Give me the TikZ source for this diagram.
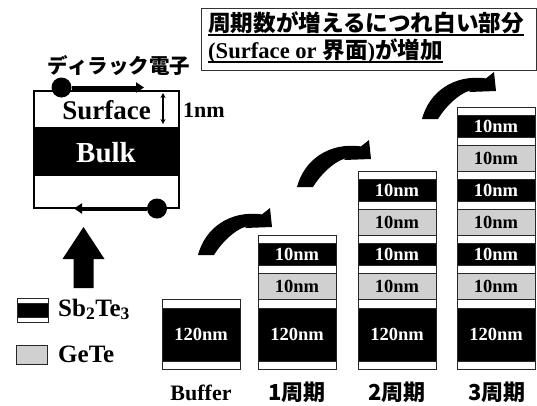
\documentclass[tikz,border=0pt]{standalone}
\usepackage{fontspec}
\setmainfont{Liberation Serif}
\newfontfamily\cjk{Noto Sans CJK JP}
\usetikzlibrary{arrows.meta}
\definecolor{gete}{RGB}{208,208,208}
\newcommand\mkbuffer[2]{%
  \draw[wl] (#1,299) rectangle ++(78,9);
  \draw[bl] (#1,308) rectangle ++(78,53);
  \draw[wl] (#1,361) rectangle ++(78,8);
  \node[nm,text=white] (#2) at (#1+39,334.5) {120nm};
}
\newcommand\mkperiod[3]{%
  \draw[gl] (#1,#2-26) rectangle ++(78,26);
  \draw[wl] (#1,#2-33.5) rectangle ++(78,7.5);
  \draw[bl] (#1,#2-56) rectangle ++(78,22.5);
  \draw[wl] (#1,#2-64) rectangle ++(78,8);
  \node[nm] (#3g) at (#1+39,#2-13) {10nm};
  \node[nm,text=white] (#3s) at (#1+39,#2-44.75) {10nm};
}
\newcommand\curvedarrow[2]{%
  \fill[shift={(#1,#2)}] (0,0) .. controls (7,-27) and (32,-45) .. (64,-40.6)
    -- (72,-47) -- (74,-28) -- (47,-27) -- (49.5,-29)
    .. controls (35,-25) and (22,-10) .. (16,0) -- cycle;
}
\begin{document}
\begin{tikzpicture}[x=1pt,y=-1pt,
  lay/.style={draw=black!85,line width=0.7pt},
  wl/.style={lay,fill=white},
  bl/.style={lay,fill=black},
  gl/.style={lay,fill=gete},
  nm/.style={font=\bfseries\fontsize{18.5}{20}\selectfont,inner sep=0pt},
  lbl/.style={font=\bfseries\fontsize{22}{24}\selectfont,inner sep=0pt,anchor=base},
  ttl/.style={font=\cjk\bfseries\fontsize{22.6}{24}\selectfont,inner sep=0pt,anchor=base west},
  elec/.style={circle,fill=black,minimum size=20pt,inner sep=0pt},
  earrow/.style={line width=4pt,-{Triangle[length=8pt,width=10pt]}}]
\useasboundingbox (0,0) rectangle (537,405);

% title box
\draw[line width=0.8pt,draw=black!80] (201,8) rectangle (536,70);
\node[ttl] (t1) at (208,31) {周期数が増えるにつれ白い部分};
\node[ttl] (t2) at (208,58) {\rmfamily(Surface or {\cjk 界面})\cjk{}が増加};
\draw[line width=1.3pt] ([yshift=-4pt]t1.base west) -- ([yshift=-4pt]t1.base east);
\draw[line width=1.3pt] ([yshift=-4pt]t2.base west) -- ([yshift=-4pt]t2.base east);

% left diagram
\fill[black] (34,127) rectangle (179,176);
\draw[line width=1.3pt] (34,91) rectangle (179,208);
\node[font=\bfseries\fontsize{27}{29}\selectfont,inner sep=0pt] (surf) at (106.5,110) {Surface};
\node[font=\bfseries\fontsize{29}{31}\selectfont,inner sep=0pt,text=white] (bulk) at (106,152.5) {Bulk};
\coordinate (nmtop) at (163,93);
\coordinate (nmbot) at (163,124);
\draw[line width=1.2pt,{Stealth[length=5pt,width=5pt]}-{Stealth[length=5pt,width=5pt]}] (nmtop) -- (nmbot);
\node[font=\bfseries\fontsize{22}{24}\selectfont,inner sep=0pt] (onenm) at (204,110) {1nm};
\node[font=\cjk\bfseries\fontsize{20.5}{22}\selectfont,inner sep=0pt] (dirac) at (119,66) {ディラック電子};
\node[elec] (e1) at (61.5,87.5) {};
\coordinate (e1end) at (144,87.5);
\draw[earrow] (e1) -- (e1end);
\node[elec] (e2) at (157,208.5) {};
\coordinate (e2end) at (74,208.5);
\draw[earrow] (e2) -- (e2end);

% big up arrow
\fill[black] (73.5,288) -- (73.5,259) -- (62.5,259) -- (83.5,227) -- (104.5,259)
  -- (93.5,259) -- (93.5,288) -- cycle;

% legend
\draw[wl] (17,298) rectangle (48,303);
\draw[bl] (17,303) rectangle (48,317);
\draw[wl] (17,317) rectangle (48,322);
\node[font=\bfseries\fontsize{25}{27}\selectfont,inner sep=0pt,anchor=base west] (lsb) at (58,316) {Sb\textsubscript{2}Te\textsubscript{3}};
\draw[gl] (16,345) rectangle (47,364);
\node[font=\bfseries\fontsize{25}{27}\selectfont,inner sep=0pt,anchor=base west] (lge) at (58,362) {GeTe};

% stacks
\mkbuffer{162}{b0}
\mkbuffer{258}{b1}
\mkperiod{258}{299}{p11}
\mkbuffer{358}{b2}
\mkperiod{358}{299}{p21}
\mkperiod{358}{235}{p22}
\mkbuffer{457}{b3}
\mkperiod{457}{299}{p31}
\mkperiod{457}{235}{p32}
\mkperiod{457}{171}{p33}

% curved arrows
\curvedarrow{198}{255}
\curvedarrow{297}{187}
\curvedarrow{422}{119}

% bottom labels
\node[lbl] (l0) at (201,400) {Buffer};
\node[lbl,font=\cjk\bfseries\fontsize{22}{24}\selectfont] (l1) at (297,400) {1周期};
\node[lbl,font=\cjk\bfseries\fontsize{22}{24}\selectfont] (l2) at (397,400) {2周期};
\node[lbl,font=\cjk\bfseries\fontsize{22}{24}\selectfont] (l3) at (497,400) {3周期};
\end{tikzpicture}
\end{document}
